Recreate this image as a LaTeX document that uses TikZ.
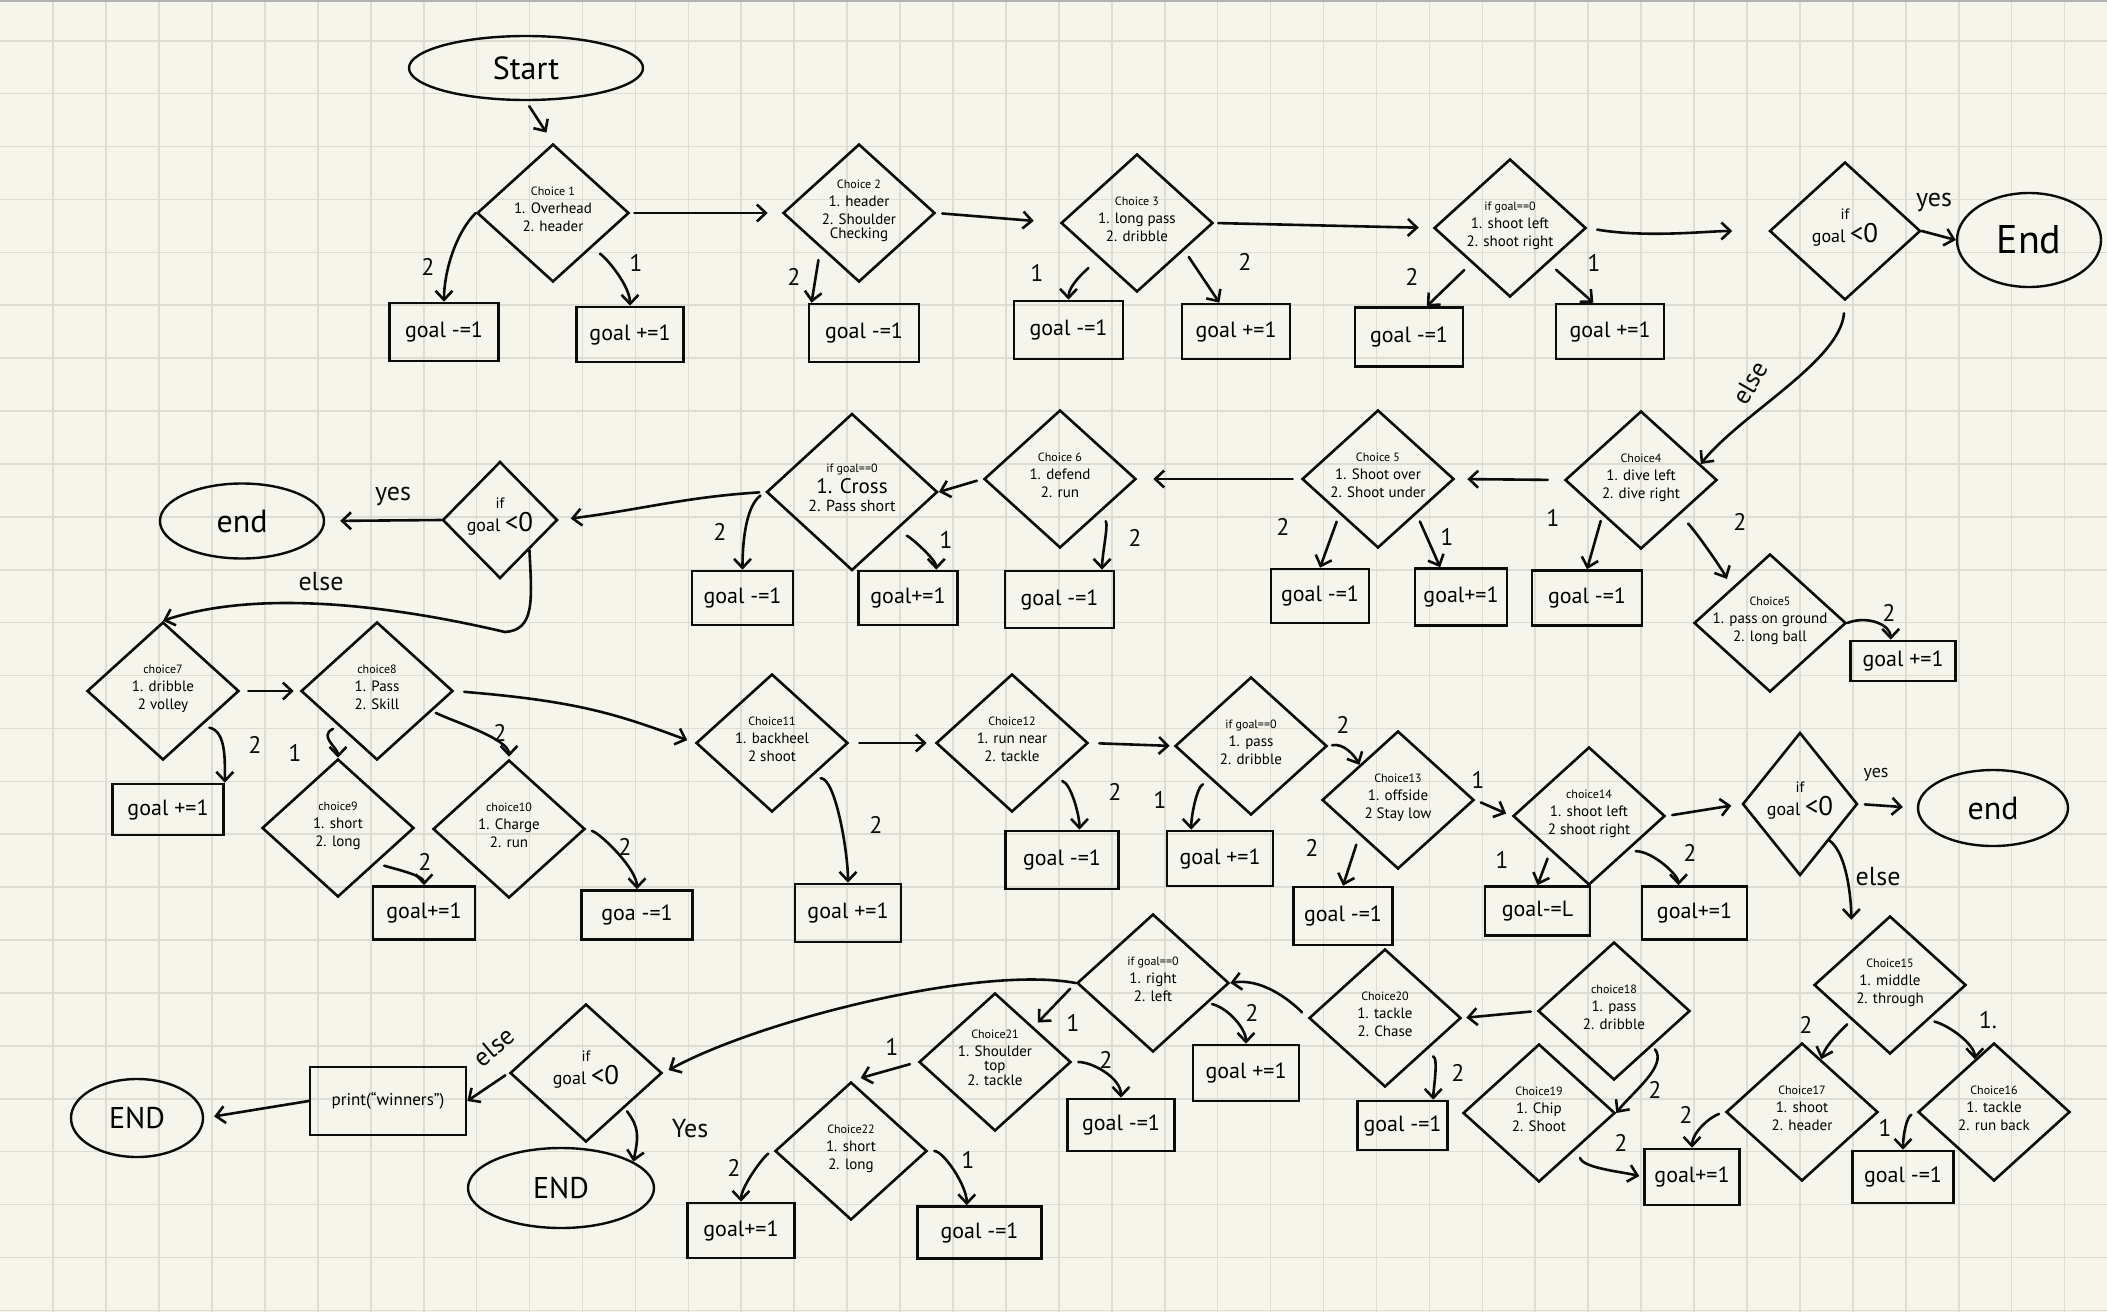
\documentclass[tikz,border=0pt]{standalone}
\usepackage{fontspec}
\setmainfont{PT Sans}
\usetikzlibrary{shapes.geometric,arrows.meta}
\definecolor{paper}{RGB}{246,245,236}
\definecolor{gridc}{RGB}{222,221,211}
\definecolor{ink}{RGB}{12,12,12}
\newcommand\dtx[1]{\smash{\makebox[0pt]{\begin{tabular}{@{}c@{}}#1\end{tabular}}}}
\newcommand\ttl[1]{{\fontsize{12}{13}\selectfont #1}}
\newcommand\ifl{{\fontsize{15}{15}\selectfont if}\\[-2pt]{\fontsize{18}{18}\selectfont goal}{\fontsize{27}{27}\selectfont\,<0}}
\begin{document}
\begin{tikzpicture}[x=1pt,y=-1pt,
  dia/.style={diamond,draw=ink,line width=2.6pt,inner sep=0pt,minimum width=152pt,minimum height=138pt,font=\fontsize{15}{18}\selectfont},
  box/.style={rectangle,draw=ink,line width=2.6pt,inner sep=0pt,font=\fontsize{22}{24}\selectfont},
  term/.style={ellipse,draw=ink,line width=2.4pt,inner sep=0pt},
  arr/.style={draw=ink,line width=2.6pt,-{Straight Barb[length=9pt,width=17pt]},line cap=round,line join=round},
  lab/.style={font=\fontsize{24}{24}\selectfont,inner sep=0pt,text=ink},
  big/.style={font=\fontsize{26}{26}\selectfont,inner sep=0pt,text=ink}]
\useasboundingbox (0,0) rectangle (2107,1312);
\fill[paper] (0,0) rectangle (2107,1312);
\foreach \i in {0,...,38} \draw[gridc,line width=1.6pt] ({53.2+52.93*\i},0) -- ({53.2+52.93*\i},1312);
\foreach \j in {0,...,24} \draw[gridc,line width=1.6pt] (0,{40.7+52.9*\j}) -- (2107,{40.7+52.9*\j});
\draw[black!30,line width=2pt] (0,1) -- (2107,1);

% ---------- row 1 ----------
\node[term,minimum width=234pt,minimum height=64pt,font=\fontsize{32}{32}\selectfont] (start) at (526,68) {Start};
\node[dia] (c1) at (553,213) {\dtx{\ttl{Choice 1}\\1. Overhead\\2. header}};
\node[dia] (c2) at (859,213) {\dtx{\ttl{Choice 2}\\1. header\\2. Shoulder\\[-4pt]Checking}};
\node[dia] (c3) at (1137,223) {\dtx{\ttl{Choice 3}\\1. long pass\\2. dribble}};
\node[dia] (cg1) at (1510,228) {\dtx{\ttl{if goal==0}\\1. shoot left\\2. shoot right}};
\node[dia,minimum width=151pt] (cl1) at (1845,231) {\dtx{\ifl}};
\node[term,minimum width=144pt,minimum height=94pt,font=\fontsize{40}{40}\selectfont] (end1) at (2029,240) {End};
\node[box,minimum width=109pt,minimum height=58pt] (b1) at (444,332) {goal -=1};
\node[box,minimum width=107pt,minimum height=55pt] (b2) at (630,334.5) {goal +=1};
\node[box,minimum width=110pt,minimum height=58pt] (b3) at (864,333) {goal -=1};
\node[box,minimum width=109pt,minimum height=58pt] (b4) at (1068.5,330) {goal -=1};
\node[box,minimum width=108pt,minimum height=55pt] (b5) at (1236,331.5) {goal +=1};
\node[box,minimum width=108pt,minimum height=59pt] (b6) at (1409,337) {goal -=1};
\node[box,minimum width=108pt,minimum height=55pt] (b7) at (1610,331.5) {goal +=1};

% ---------- row 2 ----------
\node[dia] (c4) at (1641,480) {\dtx{\ttl{Choice4}\\1. dive left\\2. dive right}};
\node[dia] (c5) at (1378,479) {\dtx{\ttl{Choice 5}\\1. Shoot over\\2. Shoot under}};
\node[dia] (c6) at (1060,479) {\dtx{\ttl{Choice 6}\\1. defend\\2. run}};
\node[dia,minimum width=171pt,minimum height=157pt] (cg2) at (852,492) {\dtx{\ttl{if goal==0}\\{\fontsize{21}{24}\selectfont 1. Cross}\\{\fontsize{16}{19}\selectfont 2. Pass short}}};
\node[dia,minimum width=115pt,minimum height=117pt] (cl2) at (500,520) {\dtx{\ifl}};
\node[term,minimum width=164pt,minimum height=75pt,font=\fontsize{32}{32}\selectfont] (end2) at (242,521) {end};
\node[dia] (c5b) at (1770,623) {\dtx{\ttl{Choice5}\\1. pass on ground\\2. long ball}};
\node[box,minimum width=101pt,minimum height=54pt] (b8) at (742.5,598) {goal -=1};
\node[box,minimum width=99pt,minimum height=54pt] (b9) at (908,598) {goal+=1};
\node[box,minimum width=109pt,minimum height=57pt] (b10) at (1059.5,599.5) {goal -=1};
\node[box,minimum width=98pt,minimum height=54pt] (b11) at (1320,596) {goal -=1};
\node[box,minimum width=92pt,minimum height=57pt] (b12) at (1461,597) {goal+=1};
\node[box,minimum width=110pt,minimum height=55pt] (b13) at (1587,598) {goal -=1};
\node[box,minimum width=105pt,minimum height=40pt] (b14) at (1903,661) {goal +=1};

% ---------- row 3 ----------
\node[dia] (c7) at (163,691) {\dtx{\ttl{choice7}\\1. dribble\\2 volley}};
\node[dia] (c8) at (377,691) {\dtx{\ttl{choice8}\\1. Pass\\2. Skill}};
\node[dia] (c9) at (338,828) {\dtx{\ttl{choice9}\\1. short\\2. long}};
\node[dia] (c10) at (509,829) {\dtx{\ttl{choice10}\\1. Charge\\2. run}};
\node[dia] (c11) at (772,743) {\dtx{\ttl{Choice11}\\1. backheel\\2 shoot}};
\node[dia] (c12) at (1012,743) {\dtx{\ttl{Choice12}\\1. run near\\2. tackle}};
\node[dia] (cg3) at (1251,746) {\dtx{\ttl{if goal==0}\\1. pass\\2. dribble}};
\node[dia] (c13) at (1398,800) {\dtx{\ttl{Choice13}\\1. offside\\2 Stay low}};
\node[dia] (c14) at (1589,816) {\dtx{\ttl{choice14}\\1. shoot left\\2 shoot right}};
\node[dia,minimum width=115pt,minimum height=143pt] (cl3) at (1800,804) {\dtx{\ifl}};
\node[term,minimum width=150pt,minimum height=76pt,font=\fontsize{32}{32}\selectfont] (end3) at (1993,808) {end};
\node[box,minimum width=111pt,minimum height=51pt] (b15) at (168,809.5) {goal +=1};
\node[box,minimum width=102pt,minimum height=53pt] (b16) at (424,913) {goal+=1};
\node[box,minimum width=111pt,minimum height=49pt] (b17) at (637,915) {goa -=1};
\node[box,minimum width=106pt,minimum height=58pt] (b18) at (848,913) {goal +=1};
\node[box,minimum width=113pt,minimum height=58pt] (b19) at (1062,860) {goal -=1};
\node[box,minimum width=106pt,minimum height=55pt] (b20) at (1220,858.5) {goal +=1};
\node[box,minimum width=99pt,minimum height=58pt] (b21) at (1343,916) {goal -=1};
\node[box,minimum width=105pt,minimum height=49pt] (b22) at (1537.5,911) {goal-=L};
\node[box,minimum width=105pt,minimum height=53pt] (b23) at (1694.5,913) {goal+=1};

% ---------- row 4 ----------
\node[dia] (c15) at (1890,985) {\dtx{\ttl{Choice15}\\1. middle\\2. through}};
\node[dia] (c17) at (1802,1112) {\dtx{\ttl{Choice17}\\1. shoot\\2. header}};
\node[dia] (c16) at (1994,1112) {\dtx{\ttl{Choice16}\\1. tackle\\2. run back}};
\node[dia] (c18) at (1614,1011) {\dtx{\ttl{choice18}\\1. pass\\2. dribble}};
\node[dia] (c19) at (1539,1113) {\dtx{\ttl{Choice19}\\1. Chip\\2. Shoot}};
\node[dia] (c20) at (1385,1018) {\dtx{\ttl{Choice20}\\1. tackle\\2. Chase}};
\node[dia] (cg4) at (1153,983) {\dtx{\ttl{if goal==0}\\1. right\\2. left}};
\node[dia] (c21) at (995,1062) {\dtx{\ttl{Choice21}\\1. Shoulder\\[-4pt]top\\[-3pt]2. tackle}};
\node[dia] (c22) at (851,1151) {\dtx{\ttl{Choice22}\\1. short\\2. long}};
\node[dia] (cl4) at (586,1073) {\dtx{\ifl}};
\node[box,minimum width=156pt,minimum height=68pt,font=\fontsize{17}{19}\selectfont] (print) at (388,1101) {print(``winners'')};
\node[term,minimum width=132pt,minimum height=78pt,font=\fontsize{30}{30}\selectfont] (endl) at (137,1118) {END};
\node[term,minimum width=186pt,minimum height=80pt,font=\fontsize{30}{30}\selectfont] (end4) at (561,1188) {END};
\node[box,minimum width=106pt,minimum height=56pt] (b24) at (1246,1073) {goal +=1};
\node[box,minimum width=90pt,minimum height=49pt] (b25) at (1402.5,1125.5) {goal -=1};
\node[box,minimum width=107pt,minimum height=52pt] (b26) at (1121,1125) {goal -=1};
\node[box,minimum width=107pt,minimum height=55pt] (b27) at (741,1230.5) {goal+=1};
\node[box,minimum width=124pt,minimum height=52pt] (b28) at (979.5,1232.5) {goal -=1};
\node[box,minimum width=95pt,minimum height=56pt] (b29) at (1692,1177) {goal+=1};
\node[box,minimum width=101pt,minimum height=52pt] (b30) at (1903,1177) {goal -=1};

% ---------- connectors row 1 ----------
\draw[arr,shorten <=6pt,shorten >=12pt] (start.south) -- (c1.north);
\draw[arr] (c1.west) .. controls +(-20,20) and +(0,-30) .. (b1.north);
\draw[arr,shorten <=10pt] (c1.south east) .. controls +(15,10) and +(0,-20) .. (b2.north);
\draw[arr,shorten <=4pt,shorten >=14pt] (c1.east) -- (c2.west);
\draw[arr,shorten <=12pt] (c2.south west) -- (b3.150);
\draw[arr,shorten <=6pt,shorten >=26pt] (c2.east) -- (c3.west);
\draw[arr,shorten <=14pt] (c3.south west) .. controls +(-10,10) and +(0,-15) .. (b4.north);
\draw[arr,shorten <=8pt] (c3.-30) -- (b5.120);
\draw[arr,shorten <=4pt,shorten >=14pt] (c3.east) -- (cg1.west);
\draw[arr,shorten <=10pt] (cg1.south west) -- (b6.60);
\draw[arr,shorten <=10pt] (cg1.south east) -- (b7.120);
\draw[arr,shorten <=10pt,shorten >=36pt] (cg1.east) .. controls +(60,10) and +(-60,0) .. (cl1.west);
\draw[arr] (cl1.east) -- (end1.west);
\draw[arr,shorten <=12pt] (cl1.south) .. controls +(-5,60) and +(40,-50) .. (c4.15);

% ---------- connectors row 2 ----------
\draw[arr,shorten <=16pt,shorten >=12pt] (c4.west) -- (c5.east);
\draw[arr,shorten <=6pt] (c4.south west) -- (b13.north);
\draw[arr,shorten <=12pt,shorten >=10pt] (c4.south east) .. controls +(15,15) and +(-10,-20) .. (c5b.north west);
\draw[arr] (c5b.east) .. controls +(20,-8) and +(0,-15) .. (b14.120);
\draw[arr,shorten <=8pt] (c5.south west) -- (b11.north);
\draw[arr,shorten <=8pt] (c5.south east) -- (b12.125);
\draw[arr,shorten <=8pt,shorten >=16pt] (c5.west) -- (c6.east);
\draw[arr,shorten <=10pt] (c6.south east) .. controls +(10,10) and +(0,-15) .. (b10.35);
\draw[arr,shorten <=6pt] (c6.west) -- (cg2.east);
\draw[arr,shorten <=6pt] (cg2.west) .. controls +(-20,15) and +(0,-25) .. (b8.north);
\draw[arr,shorten <=12pt] (cg2.south east) .. controls +(15,5) and +(0,-10) .. (b9.45);
\draw[arr,shorten <=6pt,shorten >=12pt] (cg2.west) .. controls +(-80,5) and +(80,-10) .. (cl2.east);
\draw[arr,shorten >=15pt] (cl2.west) -- (end2.east);
\draw[arr] (cl2.south east) .. controls (532,600) and (535,630) .. (505,632) .. controls (420,612) and (270,585) .. (c7.north);

% ---------- connectors row 3 ----------
\draw[arr,shorten <=8pt,shorten >=6pt] (c7.east) -- (c8.west);
\draw[arr,shorten <=8pt] (c7.south east) .. controls +(25,5) and +(0,-20) .. (b15.north east);
\draw[arr,shorten <=6pt] (c8.south west) .. controls +(-20,10) and +(0,-10) .. (c9.north);
\draw[arr,shorten <=4pt,shorten >=2pt] (c8.-20) .. controls +(20,10) and +(0,-20) .. (c10.north);
\draw[arr,shorten <=10pt,shorten >=8pt] (c8.east) .. controls +(120,10) and +(-80,-30) .. (c11.west);
\draw[arr,shorten <=8pt] (c9.south east) .. controls +(15,5) and +(0,-10) .. (b16.north);
\draw[arr,shorten <=6pt] (c10.east) .. controls +(15,5) and +(0,-20) .. (b17.north);
\draw[arr,shorten <=10pt,shorten >=8pt] (c11.east) -- (c12.west);
\draw[arr,shorten <=10pt] (c11.south east) .. controls +(25,0) and +(0,-30) .. (b18.north);
\draw[arr,shorten <=12pt] (c12.south east) .. controls +(20,5) and +(0,-15) .. (b19.60);
\draw[arr,shorten <=10pt,shorten >=4pt] (c12.east) -- (cg3.west);
\draw[arr,shorten <=10pt] (cg3.south west) .. controls +(-15,5) and +(0,-15) .. (b20.135);
\draw[arr,shorten <=4pt] (cg3.east) .. controls +(15,-3) and +(-5,-10) .. (c13.north west);
\draw[arr,shorten <=10pt] (c13.south west) -- (b21.north);
\draw[arr,shorten <=6pt,shorten >=6pt] (c13.east) -- (c14.west);
\draw[arr,shorten <=8pt] (c14.south west) -- (b22.north);
\draw[arr,shorten <=8pt] (c14.south east) .. controls +(25,0) and +(0,-10) .. (b23.120);
\draw[arr,shorten <=6pt,shorten >=10pt] (c14.east) -- (cl3.west);
\draw[arr,shorten <=6pt,shorten >=14pt] (cl3.east) -- (end3.west);
\draw[arr,shorten >=30pt] (cl3.south east) .. controls +(20,15) and +(0,-40) .. (c15.north west);

% ---------- connectors row 4 ----------
\draw[arr,shorten <=6pt] (c15.south west) .. controls +(-10,10) and +(5,-15) .. (c17.70);
\draw[arr,shorten <=6pt] (c15.south east) .. controls +(20,5) and +(0,-15) .. (c16.110);
\draw[arr,shorten <=6pt] (c17.west) .. controls +(-15,5) and +(0,-15) .. (b29.north);
\draw[arr,shorten <=6pt] (c16.west) .. controls +(-10,5) and +(0,-15) .. (b30.north);
\draw[arr,shorten <=6pt,shorten >=4pt] (c18.west) -- (c20.east);
\draw[arr,shorten <=4pt] (c18.south east) .. controls +(15,20) and +(15,-20) .. (c19.east);
\draw[arr,shorten <=10pt,shorten >=4pt] (c19.south east) .. controls +(5,20) and +(-20,-5) .. (b29.west);
\draw[arr,shorten <=10pt] (c20.south east) .. controls +(15,5) and +(0,-10) .. (b25.40);
\draw[arr,shorten <=8pt] (c20.west) .. controls +(-20,-20) and +(30,-5) .. (cg4.east);
\draw[arr,shorten <=4pt] (cg4.-20) .. controls +(20,5) and +(0,-15) .. (b24.north);
\draw[arr,shorten <=8pt,shorten >=6pt] (cg4.west) -- (c21.north east);
\draw[arr,shorten >=6pt] (cg4.west) .. controls (980,965) and (760,1020) .. (cl4.east);
\draw[arr,shorten <=6pt] (c21.east) .. controls +(20,0) and +(0,-20) .. (b26.north);
\draw[arr,shorten <=8pt,shorten >=10pt] (c21.west) -- (c22.north);
\draw[arr,shorten <=6pt] (c22.west) .. controls +(-10,5) and +(0,-15) .. (b27.north);
\draw[arr,shorten <=6pt] (c22.east) .. controls +(15,0) and +(0,-20) .. (b28.115);
\draw[arr,shorten <=4pt] (cl4.west) -- (print.east);
\draw[arr,shorten >=10pt] (print.west) -- (endl.east);
\draw[arr,shorten <=4pt] (cl4.south east) .. controls +(15,20) and +(5,-25) .. (end4.20);

% ---------- labels ----------
\node[lab] (n1) at (428,267) {2};
\node[lab] (n2) at (636,263) {1};
\node[lab] (n3) at (794,277) {2};
\node[lab] (n4) at (1037,273) {1};
\node[lab] (n5) at (1245,262) {2};
\node[lab] (n6) at (1412,277) {2};
\node[lab] (n7) at (1594,263) {1};
\node[big] (n8) at (1934,203) {yes};
\node[big,rotate=60] (n9) at (1750,383) {else};
\node[lab] (n10) at (1553,518) {1};
\node[lab] (n11) at (1740,522) {2};
\node[lab] (n12) at (1889,613) {2};
\node[lab] (n13) at (1283,527) {2};
\node[lab] (n14) at (1447,537) {1};
\node[lab] (n15) at (1135,538) {2};
\node[lab] (n16) at (720,532) {2};
\node[lab] (n17) at (946,540) {1};
\node[big] (n18) at (393,497) {yes};
\node[big] (n19) at (321,582) {else};
\node[lab] (n20) at (255,745) {2};
\node[lab] (n21) at (295,753) {1};
\node[lab] (n22) at (500,733) {2};
\node[lab] (n23) at (425,862) {2};
\node[lab] (n24) at (625,847) {2};
\node[lab] (n25) at (876,825) {2};
\node[lab] (n26) at (1115,792) {2};
\node[lab] (n27) at (1160,800) {1};
\node[lab] (n28) at (1343,725) {2};
\node[lab] (n29) at (1312,848) {2};
\node[lab] (n30) at (1478,780) {1};
\node[lab] (n31) at (1502,860) {1};
\node[lab] (n32) at (1690,853) {2};
\node[lab,font=\fontsize{18}{18}\selectfont] (n33) at (1876,775) {yes};
\node[big] (n34) at (1878,877) {else};
\node[lab] (n35) at (1806,1025) {2};
\node[lab] (n36) at (1988,1020) {1.};
\node[lab] (n37) at (1686,1115) {2};
\node[lab] (n38) at (1885,1128) {1};
\node[lab] (n39) at (1655,1090) {2};
\node[lab] (n40) at (1621,1143) {2};
\node[lab] (n41) at (1458,1073) {2};
\node[lab] (n42) at (1252,1013) {2};
\node[lab] (n43) at (1073,1023) {1};
\node[lab] (n44) at (1106,1060) {2};
\node[lab] (n45) at (892,1047) {1};
\node[lab] (n46) at (734,1168) {2};
\node[lab] (n47) at (968,1160) {1};
\node[big,rotate=40] (n48) at (494,1047) {else};
\node[big] (n49) at (690,1129) {Yes};
\end{tikzpicture}
\end{document}
